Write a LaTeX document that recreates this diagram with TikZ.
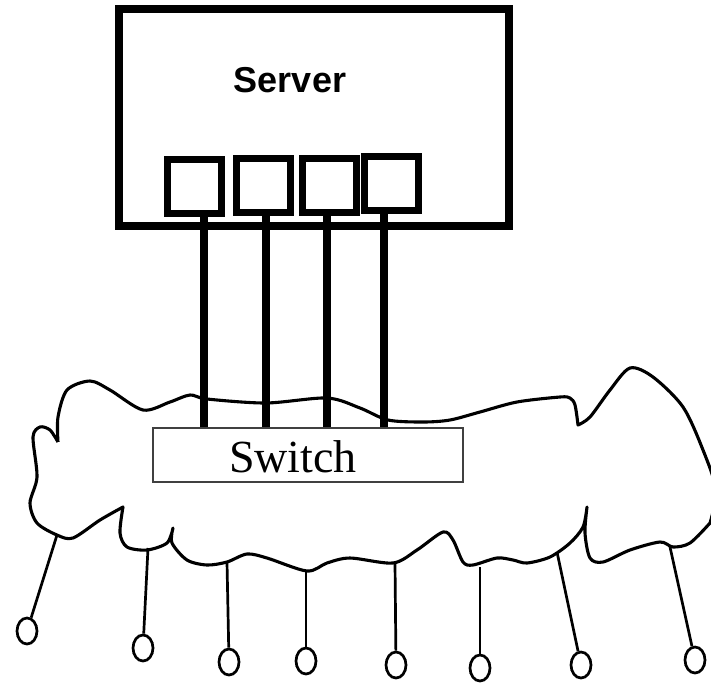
\documentclass[tikz,border=0pt]{standalone}
\usepackage{fontspec}
\newfontfamily\srvfont{Liberation Sans}
\newfontfamily\swfont{Liberation Serif}
\usetikzlibrary{shapes.geometric}
\tikzset{
  srvbox/.style={draw, line width=8pt, rectangle, minimum width=390pt, minimum height=217pt, inner sep=0pt},
  portbox/.style={draw, line width=7pt, rectangle, minimum width=54pt, minimum height=54pt, inner sep=0pt},
  wire/.style={line width=8pt},
  swbox/.style={draw=black!75, line width=1.2pt, rectangle, minimum width=310pt, minimum height=54pt, inner sep=0pt},
  cloudline/.style={line width=3.1pt, line join=round},
  stub/.style={line width=2.7pt},
  term/.style={draw, line width=2.7pt, ellipse, minimum width=20pt, minimum height=26pt, inner sep=0pt}
}
\begin{document}
\begin{tikzpicture}[x=1pt,y=-1pt]
\useasboundingbox (0,0) rectangle (711,683);
% server
\node[srvbox] (srv) at (314,117.5) {};
\node[font=\srvfont\bfseries\fontsize{36}{40}\selectfont] (srvlabel) at (290,80) {Server};
\node[portbox] (p1) at (194.5,186.5) {};
\node[portbox] (p2) at (263,185) {};
\node[portbox] (p3) at (329,185) {};
\node[portbox] (p4) at (391,183.5) {};
% switch
\node[swbox] (sw) at (308,455) {};
\node[font=\swfont\fontsize{46}{50}\selectfont] (swlabel) at (293,457) {Switch};
% cloud
\draw[cloudline]
  plot[smooth] coordinates {(58,442) (58,417) (67,390) (90,381) (110,390) (143,410) (170,402) (190,395) (207,399) (266,403) (327,398) (360,408) (388,420) (423,422) (450,420) (480,412) (517,402) (560,397) (570,398) (575,405) (578,425)}
  -- plot[smooth] coordinates {(578,425) (590,417) (610,390) (630,368) (653,377) (683,407) (703,450) (716,490) (710,523)}
  -- plot[smooth] coordinates {(710,523) (690,543) (673,547) (660,542) (630,550) (603,562) (590,558) (585,533) (587,507)}
  -- plot[smooth] coordinates {(587,507) (583,527) (570,543) (550,557) (527,563) (513,560) (497,558) (473,565) (463,562) (453,540) (443,532) (417,550) (393,563) (350,558) (327,563) (307,571) (267,558) (247,554) (227,562) (207,565) (187,560) (172,543) (173,528)}
  -- plot[smooth] coordinates {(173,528) (167,543) (147,550) (127,547) (120,533) (123,507)}
  -- plot[smooth] coordinates {(123,507) (100,520) (73,538) (57,535) (37,523) (30,503) (37,477) (33,437) (40,427) (50,430) (58,442)};
% wires
\coordinate (w1) at (204,0);
\coordinate (w2) at (266,0);
\coordinate (w3) at (327,0);
\coordinate (w4) at (384,0);
\draw[wire] (p1.south -| w1) -- (sw.north -| w1);
\draw[wire] (p2.south -| w2) -- (sw.north -| w2);
\draw[wire] (p3.south -| w3) -- (sw.north -| w3);
\draw[wire] (p4.south -| w4) -- (sw.north -| w4);
% terminals
\coordinate (c1) at (57,535);
\coordinate (c2) at (148,548);
\coordinate (c3) at (227,562);
\coordinate (c4) at (306,571);
\coordinate (c5) at (395,563);
\coordinate (c6) at (480,567);
\coordinate (c7) at (557,552);
\coordinate (c8) at (670,547);
\node[term] (t1) at (27,631) {};
\node[term] (t2) at (143,648) {};
\node[term] (t3) at (229,662) {};
\node[term] (t4) at (306,661) {};
\node[term] (t5) at (396,665) {};
\node[term] (t6) at (480,668) {};
\node[term] (t7) at (581,665) {};
\node[term] (t8) at (695,660) {};
\draw[stub] (c1) -- (t1);
\draw[stub] (c2) -- (t2);
\draw[stub] (c3) -- (t3);
\draw[stub] (c4) -- (t4);
\draw[stub] (c5) -- (t5);
\draw[stub] (c6) -- (t6);
\draw[stub] (c7) -- (t7);
\draw[stub] (c8) -- (t8);
\end{tikzpicture}
\end{document}
